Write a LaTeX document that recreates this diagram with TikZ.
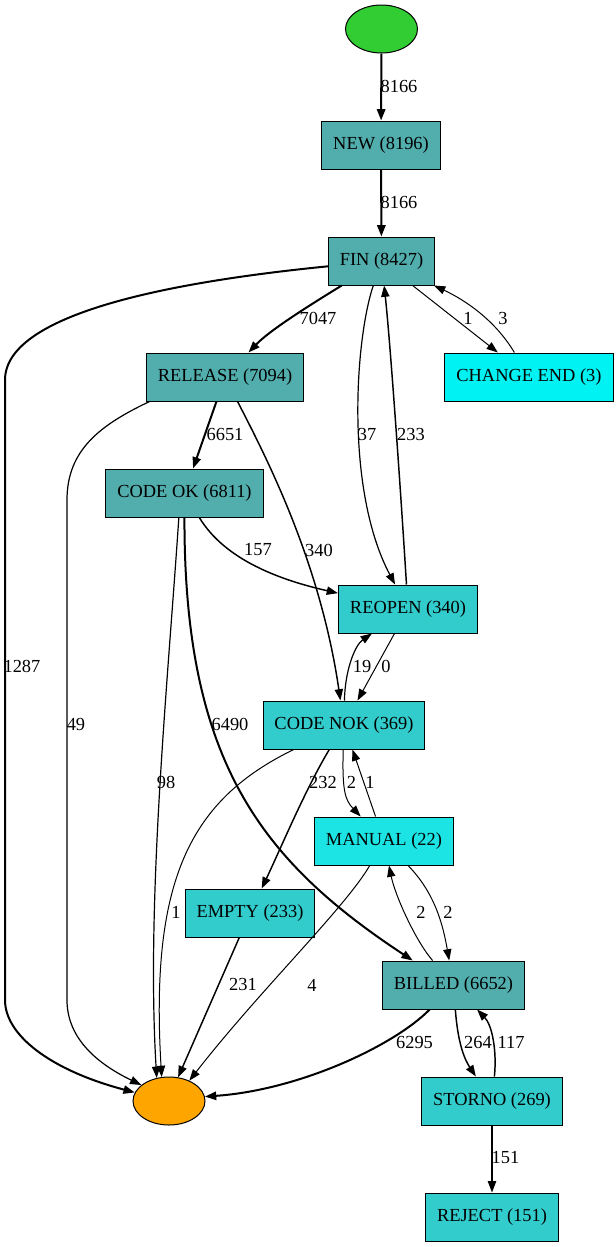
\documentclass[tikz,border=0pt]{standalone}
\usepackage{fontspec}
\setmainfont{Liberation Serif}
\usepackage{tikz}
\usetikzlibrary{arrows.meta,shapes.geometric}
\definecolor{tealbox}{RGB}{82,173,173}
\definecolor{midbox}{RGB}{51,204,204}
\definecolor{brightbox}{RGB}{28,228,228}
\definecolor{cyanbox}{RGB}{0,242,242}
\definecolor{startgreen}{RGB}{50,205,50}
\definecolor{endorange}{RGB}{255,165,0}

\begin{document}
\begin{tikzpicture}[
  x=0.75pt, y=-0.75pt,
  >={Triangle[length=8.5pt,width=6.2pt]},
  every node/.style={font=\fontsize{13.8}{16}\selectfont},
  state/.style={rectangle,draw=black,line width=0.75pt,inner xsep=8.6pt,minimum height=36pt},
  startpt/.style={ellipse,draw=black,line width=0.75pt,fill=startgreen,minimum width=54pt,minimum height=36pt},
  endpt/.style={ellipse,draw=black,line width=0.75pt,fill=endorange,minimum width=54pt,minimum height=36pt},
  lbl/.style={inner sep=0pt},
  heavy/.style={->,line width=1.5pt},
  medium/.style={->,line width=1.1pt},
  light/.style={->,line width=0.9pt},
  faint/.style={->,line width=0.75pt}
]
\useasboundingbox (0,0) rectangle (615,1247);

% states
\node[startpt] (start) at (381.5,29) {};
\node[state,fill=tealbox] (new) at (381,145) {NEW (8196)};
\node[state,fill=tealbox] (fin) at (381.5,261) {FIN (8427)};
\node[state,fill=tealbox] (release) at (225,377) {RELEASE (7094)};
\node[state,fill=cyanbox] (changeend) at (529,377) {CHANGE END (3)};
\node[state,fill=tealbox] (codeok) at (184.5,493) {CODE OK (6811)};
\node[state,fill=midbox] (reopen) at (408,609) {REOPEN (340)};
\node[state,fill=midbox] (codenok) at (344,725) {CODE NOK (369)};
\node[state,fill=brightbox] (manual) at (384,841) {MANUAL (22)};
\node[state,fill=midbox] (empty) at (250,913) {EMPTY (233)};
\node[state,fill=tealbox] (billed) at (453.5,985) {BILLED (6652)};
\node[state,fill=midbox] (storno) at (492,1101) {STORNO (269)};
\node[state,fill=midbox] (reject) at (492,1217) {REJECT (151)};
\node[endpt] (end) at (169,1101) {};

% top part
\draw[heavy] (start) -- (new);
\draw[heavy] (new) -- (fin);
\draw[heavy] (fin) .. controls (190,280) and (5,310) .. (5,380)
  -- (5,1000) .. controls (5,1035) and (50,1070) .. (end.166);
\draw[heavy] (fin) .. controls (310,305) and (270,330) .. (release);
\draw[faint] (fin) -- (changeend);
\draw[faint] (changeend) .. controls (495,320) and (465,300) .. (fin);
\draw[light] (fin) .. controls (355,340) and (345,490) .. (reopen);
\draw[medium] (reopen) .. controls (400,480) and (390,340) .. (fin);

% release and code ok
\draw[heavy] (release) -- (codeok);
\draw[light] (release.-162) .. controls (100,425) and (67,450) .. (67,500)
  -- (67,1000) .. controls (67,1040) and (100,1065) .. (end.150);
\draw[medium] (release) .. controls (265,455) and (320,560) .. (codenok);
\draw[medium] (codeok) .. controls (225,560) and (280,580) .. (reopen);
\draw[light] (codeok.-103) .. controls (168,680) and (146,900) .. (end.118);
\draw[heavy] (codeok) .. controls (184,760) and (260,860) .. (billed.149);

% reopen and code nok
\draw[faint] (reopen) -- (codenok);
\draw[light] (codenok) .. controls (345,670) and (355,645) .. (reopen);
\draw[medium] (codenok) .. controls (305,790) and (280,850) .. (empty);
\draw[faint] (codenok) .. controls (190,800) and (150,880) .. (end.107);
\draw[faint] (codenok) .. controls (342,790) and (345,800) .. (manual);
\draw[faint] (manual) -- (codenok);

% lower part
\draw[faint] (manual) .. controls (345,908) and (260,990) .. (end.45);
\draw[faint] (billed) .. controls (415,940) and (395,895) .. (manual);
\draw[faint] (manual) .. controls (435,893) and (443,925) .. (billed);
\draw[medium] (empty) -- (end.69);
\draw[heavy] (billed) .. controls (395,1045) and (300,1090) .. (end.7);
\draw[medium] (billed) .. controls (458,1045) and (465,1060) .. (storno);
\draw[medium] (storno) .. controls (497,1050) and (492,1025) .. (billed);
\draw[medium] (storno) -- (reject);

% edge counts
\node[lbl] (l1) at (399,86) {8166};
\node[lbl] (l2) at (399,202) {8166};
\node[lbl] (l3) at (318,318) {7047};
\node[lbl] (l4) at (468,318) {1};
\node[lbl] (l5) at (503,318) {3};
\node[lbl] (l6) at (367,434) {37};
\node[lbl] (l7) at (411,434) {233};
\node[lbl] (l8) at (225,434) {6651};
\node[lbl] (l9) at (258,550) {157};
\node[lbl] (l10) at (319,550) {340};
\node[lbl] (l11) at (22,666) {1287};
\node[lbl] (l12) at (362,666) {19};
\node[lbl] (l13) at (386,666) {0};
\node[lbl] (l14) at (76,724) {49};
\node[lbl] (l15) at (230,724) {6490};
\node[lbl] (l16) at (166,782) {98};
\node[lbl] (l17) at (323,782) {232};
\node[lbl] (l18) at (351.5,782) {2};
\node[lbl] (l19) at (370,782) {1};
\node[lbl] (l20) at (176,912) {1};
\node[lbl] (l21) at (421,912) {2};
\node[lbl] (l22) at (448,912) {2};
\node[lbl] (l23) at (243,984) {231};
\node[lbl] (l24) at (312,985) {4};
\node[lbl] (l25) at (414.5,1042) {6295};
\node[lbl] (l26) at (478,1042) {264};
\node[lbl] (l27) at (511,1042) {117};
\node[lbl] (l28) at (505.5,1158) {151};
\end{tikzpicture}
\end{document}
